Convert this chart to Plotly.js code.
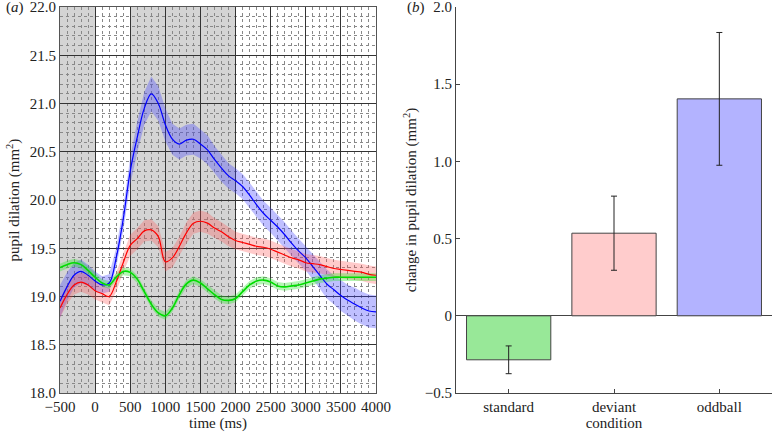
<!DOCTYPE html>
<html><head><meta charset="utf-8">
<script src="https://cdn.plot.ly/plotly-3.0.1.min.js"></script>
<style>html,body{margin:0;padding:0;background:#fff}#chart{width:772px;height:432px}</style>
</head><body><div id="chart"></div>
<script>
// time (ms)
var time = [-500,-400,-300,-200,-100,0,100,200,300,400,500,600,700,800,900,1000,1100,1200,1300,1400,1500,1600,1700,1800,1900,2000,2100,2200,2300,2400,2500,2600,2700,2800,2900,3000,3100,3200,3300,3400,3500,3600,3700,3800,3900,4000];
// oddball (blue)
var oddballMean = [18.95,19.10,19.22,19.26,19.22,19.16,19.12,19.14,19.40,19.80,20.30,20.65,20.95,21.10,21.00,20.78,20.63,20.58,20.62,20.63,20.58,20.52,20.42,20.33,20.25,20.20,20.14,20.05,19.95,19.86,19.79,19.72,19.64,19.55,19.47,19.40,19.31,19.22,19.13,19.07,19.01,18.96,18.92,18.88,18.85,18.84];
var oddballErr  = [0.17,0.15,0.13,0.12,0.11,0.10,0.09,0.09,0.10,0.12,0.14,0.16,0.17,0.18,0.18,0.17,0.16,0.16,0.16,0.16,0.15,0.15,0.14,0.14,0.13,0.13,0.13,0.13,0.13,0.13,0.13,0.13,0.13,0.13,0.13,0.13,0.14,0.14,0.15,0.15,0.16,0.16,0.17,0.17,0.17,0.17];
// deviant (red)
var deviantMean = [18.88,19.02,19.12,19.15,19.12,19.06,19.03,19.00,19.15,19.35,19.53,19.60,19.68,19.69,19.62,19.36,19.40,19.52,19.66,19.76,19.78,19.76,19.71,19.67,19.62,19.58,19.56,19.54,19.52,19.51,19.49,19.46,19.43,19.40,19.38,19.35,19.34,19.33,19.31,19.29,19.28,19.27,19.26,19.25,19.23,19.22];
var deviantErr  = [0.10,0.10,0.10,0.10,0.10,0.09,0.09,0.09,0.10,0.10,0.11,0.11,0.11,0.11,0.11,0.10,0.10,0.10,0.11,0.11,0.11,0.11,0.10,0.10,0.10,0.09,0.09,0.09,0.09,0.09,0.09,0.09,0.09,0.09,0.09,0.09,0.09,0.09,0.09,0.09,0.09,0.09,0.09,0.09,0.09,0.09];
// standard (green)
var standardMean = [19.30,19.33,19.35,19.33,19.27,19.20,19.14,19.12,19.20,19.26,19.25,19.18,19.05,18.92,18.83,18.80,18.88,19.02,19.13,19.17,19.14,19.08,19.02,18.97,18.96,18.98,19.05,19.12,19.16,19.17,19.15,19.11,19.10,19.11,19.12,19.14,19.16,19.18,19.19,19.20,19.20,19.20,19.20,19.20,19.20,19.20];
var standardErr  = [0.04,0.04,0.04,0.04,0.04,0.04,0.04,0.04,0.04,0.04,0.04,0.04,0.04,0.04,0.04,0.04,0.04,0.04,0.04,0.04,0.04,0.04,0.04,0.04,0.04,0.04,0.04,0.04,0.04,0.04,0.04,0.04,0.04,0.04,0.04,0.04,0.04,0.04,0.04,0.04,0.04,0.04,0.04,0.04,0.04,0.04];

// panel a tick labels
var timeTicks = [-500,0,500,1000,1500,2000,2500,3000,3500,4000];
var pupilTicks = [18.0,18.5,19.0,19.5,20.0,20.5,21.0,21.5,22.0];
var pupilTickText = ['18.0','18.5','19.0','19.5','20.0','20.5','21.0','21.5','22.0'];

// panel b
var conditions = ['standard','deviant','oddball'];
var changeMean = [-0.285, 0.535, 1.405];
var changeErr  = [0.09, 0.24, 0.43];
var barColors  = ['#98e898','#ffcccc','#b3b3ff'];
var changeTicks = [-0.5,0,0.5,1,1.5,2];
var changeTickText = ['\u22120.5','0','0.5','1.0','1.5','2.0'];

var shadedPeriods = [[-500,0],[500,2000]];

var FONT = 'Liberation Serif';
var FS = 15;

function band(mean, err, fillcol, name){
  var up = mean.map(function(v,i){return v+err[i];});
  var lo = mean.map(function(v,i){return v-err[i];});
  return {x: time.concat(time.slice().reverse()), y: up.concat(lo.slice().reverse()),
    fill:'toself', fillcolor:fillcol, line:{width:0}, mode:'lines', hoverinfo:'skip',
    showlegend:false, xaxis:'x', yaxis:'y', name:name+' band'};
}
function line(mean, col, w, name){
  return {x: time, y: mean, mode:'lines', line:{color:col, width:w, shape:'spline'},
    showlegend:false, xaxis:'x', yaxis:'y', name:name};
}

var traces = [
  band(oddballMean, oddballErr, 'rgba(60,60,255,0.33)', 'oddball'),
  band(deviantMean, deviantErr, 'rgba(255,80,80,0.30)', 'deviant'),
  band(standardMean, standardErr, 'rgba(40,230,40,0.35)', 'standard'),
  line(oddballMean, '#0000ff', 1.2, 'oddball'),
  line(deviantMean, '#ff0000', 1.2, 'deviant'),
  line(standardMean, '#00dd00', 1.6, 'standard'),
  {type:'bar', x: conditions, y: changeMean, width:0.8,
   marker:{color: barColors, line:{color:'#444', width:1}},
   error_y:{type:'data', array: changeErr, visible:true, color:'#222', thickness:1, width:3},
   xaxis:'x2', yaxis:'y2', showlegend:false}
];

var shapes = shadedPeriods.map(function(p){
  return {type:'rect', xref:'x', yref:'y', x0:p[0], x1:p[1], y0:18, y1:22,
    fillcolor:'#d4d4d4', line:{width:0}, layer:'below'};
});

var W = 772;
var layout = {
  width: 772, height: 432,
  margin: {l:0, r:0, t:7, b:39},
  paper_bgcolor:'#fff', plot_bgcolor:'#fff',
  font: {family: FONT, size: FS, color:'#222'},
  showlegend:false,
  shapes: shapes,
  xaxis: {domain:[60/W, 376/W], range:[-500,4000], tickmode:'array', tickvals: timeTicks,
    showgrid:true, gridcolor:'#333', gridwidth:1, ticklabeloverflow:'allow',
    minor:{dtick:100, tick0:0, showgrid:true, gridcolor:'#888', griddash:'dot', gridwidth:1},
    showline:true, linecolor:'#555', linewidth:1, mirror:true, ticks:'', zeroline:false,
    tickfont:{family:FONT, size:FS}, title:{text:'time (ms)', font:{family:FONT, size:FS}, standoff:2}},
  yaxis: {domain:[0,1], range:[18,22], tickmode:'array', tickvals: pupilTicks, ticktext: pupilTickText,
    showgrid:true, gridcolor:'#333', gridwidth:1, ticklabeloverflow:'allow',
    minor:{dtick:0.1, tick0:0, showgrid:true, gridcolor:'#888', griddash:'dot', gridwidth:1},
    showline:true, linecolor:'#555', linewidth:1, mirror:true, ticks:'', zeroline:false,
    tickfont:{family:FONT, size:FS}, title:{text:'pupil dilation (mm<sup>2</sup>)', font:{family:FONT, size:FS}, standoff:6}},
  xaxis2: {domain:[456/W, 1], range:[-0.5,2.5], anchor:'y2', type:'category',
    showgrid:false, zeroline:false, showline:true, linecolor:'#444', linewidth:1,
    ticks:'inside', ticklen:4, tickcolor:'#444', ticklabeloverflow:'allow',
    tickvals: conditions, ticktext: ['standard','deviant','oddball'],
    tickfont:{family:FONT, size:FS}, title:{text:'condition', font:{family:FONT, size:FS}, standoff:0}},
  yaxis2: {domain:[0,1], range:[-0.5,2.0], anchor:'x2',
    showgrid:false, zeroline:true, zerolinecolor:'#444', zerolinewidth:1,
    showline:true, linecolor:'#444', linewidth:1, ticklabeloverflow:'allow',
    ticks:'inside', ticklen:4, tickcolor:'#444',
    tickmode:'array', tickvals: changeTicks, ticktext: changeTickText,
    tickfont:{family:FONT, size:FS}, title:{text:'change in pupil dilation (mm<sup>2</sup>)', font:{family:FONT, size:FS}, standoff:4}},
  annotations: [
    {text:'(<i>a</i>)', xref:'paper', yref:'paper', x:4/W, y:1, xanchor:'left', yanchor:'middle', showarrow:false, font:{family:FONT, size:FS}},
    {text:'(<i>b</i>)', xref:'paper', yref:'paper', x:405/W, y:1, xanchor:'left', yanchor:'middle', showarrow:false, font:{family:FONT, size:FS}}
  ]
};

Plotly.newPlot('chart', traces, layout, {displayModeBar:false, staticPlot:true});
</script></body></html>
